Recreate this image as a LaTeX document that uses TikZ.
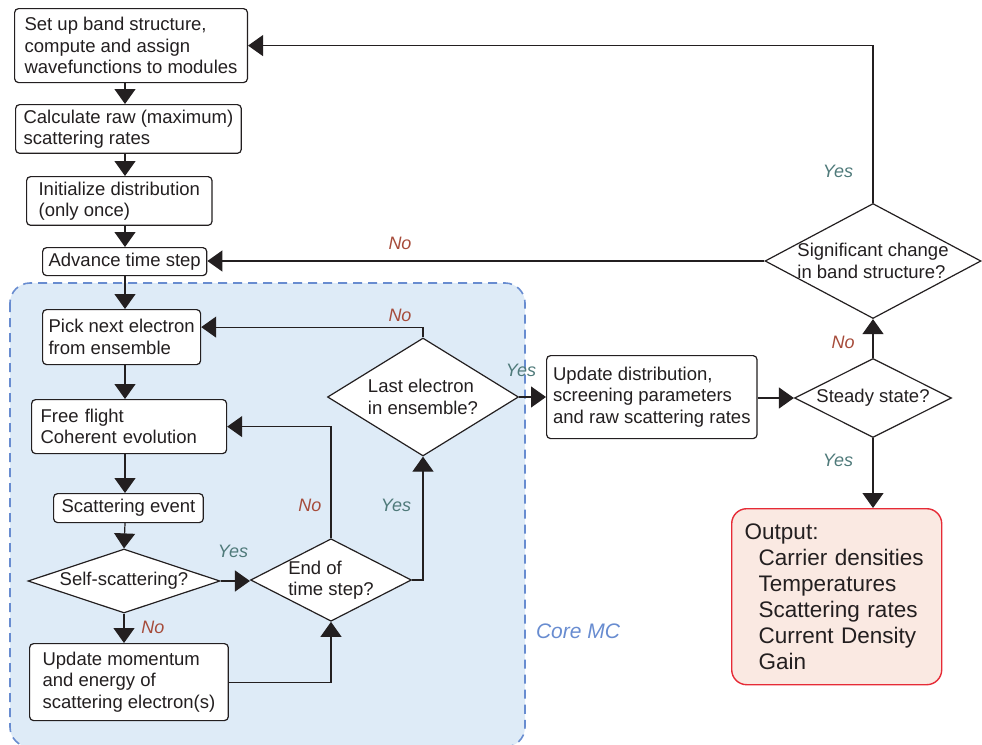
\documentclass[tikz,border=0pt]{standalone}
\usepackage{fontspec}
\setmainfont{Liberation Sans}
\usetikzlibrary{shapes.geometric,arrows.meta}
\definecolor{ink}{HTML}{231F20}
\definecolor{yescol}{HTML}{4F7A7A}
\definecolor{nocol}{HTML}{A64B3A}
\definecolor{corefill}{HTML}{DEEBF7}
\definecolor{coreline}{HTML}{688CD0}
\definecolor{outfill}{HTML}{FAE9E2}
\definecolor{outred}{HTML}{E62B36}

\begin{document}
\begin{tikzpicture}[x=1pt, y=-1pt,
    every node/.style={font=\fontsize{18.5}{21.5}\selectfont, text=ink},
    stepbox/.style={draw=ink, line width=1.2pt, fill=white, rounded corners=4pt,
        align=left, anchor=north west, inner ysep=5pt},
    decision/.style={diamond, draw=ink, line width=1.2pt, fill=white, align=left, inner sep=0pt},
    arr/.style={draw=ink, line width=1.2pt, -{Triangle[width=21pt,length=15pt]}},
    yes/.style={text=yescol, font=\fontsize{18}{21}\selectfont\itshape},
    no/.style={text=nocol, font=\fontsize{18}{21}\selectfont\itshape}]
    \useasboundingbox (0,0) rectangle (982,744);
    % core MC region
    \draw[coreline, fill=corefill, line width=1.6pt, dash pattern=on 9pt off 6pt,
        rounded corners=20pt] (10,283) rectangle (525,747);
    \node[text=coreline, font=\fontsize{21}{24}\selectfont\itshape] (coremc) at (578,631) {Core MC};

    \node[stepbox, inner xsep=10pt, minimum height=74pt] (setup) at (14,8)
        {Set up band structure,\\compute and assign\\wavefunctions to modules};
    \node[stepbox, inner xsep=8pt, minimum height=48pt] (raw) at (15,104)
        {Calculate raw (maximum)\\scattering rates};
    \node[stepbox, inner xsep=12pt, minimum height=47pt] (init) at (26,176)
        {Initialize distribution\\(only once)};
    \node[stepbox, inner xsep=6pt, minimum height=28pt] (advance) at (42,247)
        {Advance time step};
    \node[stepbox, inner xsep=6pt, minimum height=55pt] (pick) at (42,309)
        {Pick next electron\\from ensemble};
    \node[stepbox, text width=177pt, inner xsep=9pt, minimum height=54pt] (flight) at (31,399)
        {Free flight\\Coherent evolution};
    \node[stepbox, inner xsep=8pt, minimum height=29pt] (scatter) at (53,493)
        {Scattering event};
    \node[decision, shape aspect=3, minimum width=192pt, minimum height=64pt] (self) at (124,581)
        {Self-scattering?};
    \node[stepbox, inner xsep=13pt, minimum height=77pt] (update) at (29,643)
        {Update momentum\\and energy of\\scattering electron(s)};
    \node[decision, shape aspect=1.95, minimum width=160pt, minimum height=82pt] (endstep) at (331,580)
        {End of\\time step?};
    \node[decision, shape aspect=1.62, minimum width=191pt, minimum height=118pt] (last) at (423,397)
        {Last electron\\in ensemble?};
    \node[stepbox, inner xsep=6.5pt, minimum height=83pt] (updist) at (546,355)
        {Update distribution,\\screening parameters\\and raw scattering rates};
    \node[decision, shape aspect=2, minimum width=157pt, minimum height=79pt] (steady) at (873,398)
        {Steady state?};
    \node[decision, shape aspect=1.88, inner sep=-3pt, minimum width=216pt, minimum height=115pt] (signif) at (873,261)
        {Significant change\\in band structure?};
    \node[stepbox, draw=outred, line width=1.4pt, fill=outfill, rounded corners=15pt, text width=184pt,
        inner xsep=13pt, minimum height=176pt, font=\fontsize{22.5}{26}\selectfont] (output) at (731,508)
        {Output:\\\hspace*{14pt}Carrier densities\\\hspace*{14pt}Temperatures\\\hspace*{14pt}Scattering rates\\
         \hspace*{14pt}Current Density\\\hspace*{14pt}Gain};

    % main column
    \coordinate (spine) at (125,0);
    \draw[arr] (setup.south -| spine) -- (raw.north -| spine);
    \draw[arr] (raw.south -| spine) -- (init.north -| spine);
    \draw[arr] (init.south -| spine) -- (advance.north -| spine);
    \draw[arr] (advance.south -| spine) -- (pick.north -| spine);
    \draw[arr] (pick.south -| spine) -- (flight.north -| spine);
    \draw[arr] (flight.south -| spine) -- (scatter.north -| spine);
    \draw[arr] (scatter.south -| spine) -- (self.north);
    \draw[arr] (self.south) -- (update.north -| self.south);

    % loops inside core MC
    \draw[arr] (self.east) -- (self.east -| endstep.west);
    \draw[arr] (update.east) -| (endstep.south);
    \draw[arr] (endstep.north) |- (flight.east);
    \draw[arr] (endstep.east) -| (last.south);
    \draw[arr] (last.north) |- ([yshift=10pt]pick.east);

    % right part
    \draw[arr] (last.east) -- (last.east -| updist.west);
    \draw[arr] (updist.east |- steady.west) -- (steady.west);
    \draw[arr] (steady.north) -- (signif.south);
    \draw[arr] (steady.south) -- (steady.south |- output.north);
    \draw[arr] (signif.west) -- (signif.west -| advance.east);
    \draw[arr] (signif.north) |- (setup.east);

    \node[yes] (yesband) at (838,171) {Yes};
    \node[no] (noband) at (400,243) {No};
    \node[no] (nolast) at (400,315) {No};
    \node[yes] (yeslast) at (521,370) {Yes};
    \node[yes] (yesself) at (233,551) {Yes};
    \node[no] (noself) at (153,627) {No};
    \node[no] (nostep) at (310,505) {No};
    \node[yes] (yesstep) at (396,505) {Yes};
    \node[no] (nosteady) at (843,342) {No};
    \node[yes] (yessteady) at (838,460) {Yes};
\end{tikzpicture}
\end{document}
